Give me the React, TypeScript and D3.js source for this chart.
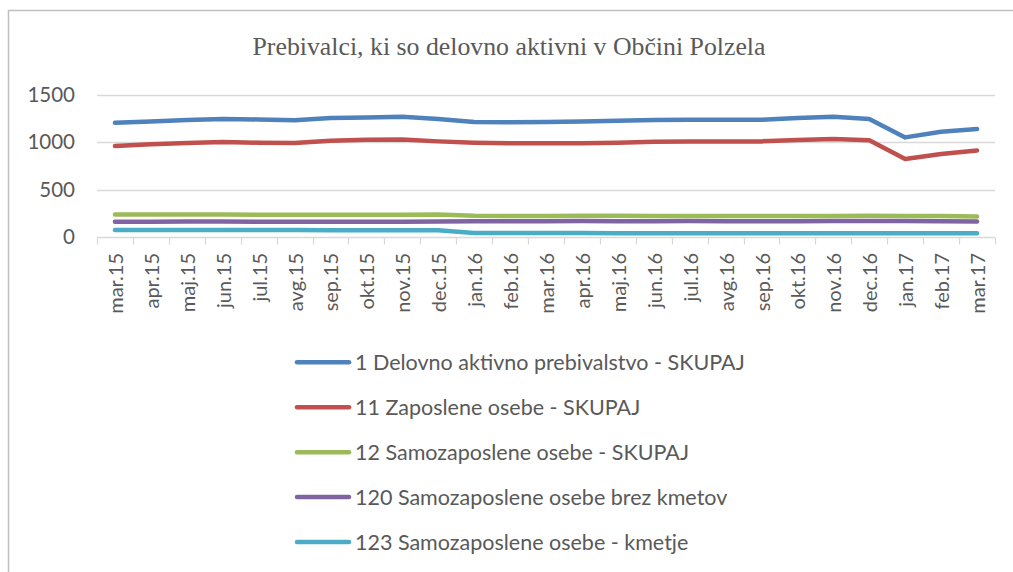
import React, { useRef, useEffect } from "react";
import * as d3 from "d3";

const months = [
  "mar.15", "apr.15", "maj.15", "jun.15", "jul.15", "avg.15", "sep.15", "okt.15", "nov.15",
  "dec.15", "jan.16", "feb.16", "mar.16", "apr.16", "maj.16", "jun.16", "jul.16", "avg.16",
  "sep.16", "okt.16", "nov.16", "dec.16", "jan.17", "feb.17", "mar.17",
];

const seriesNames = [
  "1 Delovno aktivno prebivalstvo - SKUPAJ",
  "11 Zaposlene osebe - SKUPAJ",
  "12 Samozaposlene osebe - SKUPAJ",
  "120 Samozaposlene osebe brez kmetov",
  "123 Samozaposlene osebe - kmetje",
];

const skupaj = [1205, 1219, 1233, 1244, 1240, 1230, 1254, 1261, 1268, 1244, 1212, 1209, 1212, 1219, 1226, 1233, 1237, 1237, 1237, 1254, 1268, 1244, 1051, 1111, 1139];
const zaposlene = [960, 978, 992, 1002, 995, 992, 1016, 1027, 1030, 1009, 995, 988, 988, 988, 995, 1006, 1009, 1009, 1009, 1023, 1034, 1020, 823, 876, 914];
const samozaposlene = [241, 240, 240, 240, 238, 237, 236, 236, 237, 240, 226, 225, 225, 226, 226, 225, 225, 224, 224, 225, 225, 226, 225, 224, 220];
const brezKmetov = [164, 164, 165, 165, 164, 164, 164, 163, 164, 167, 170, 170, 170, 171, 170, 170, 171, 169, 169, 169, 171, 172, 172, 170, 166];
const kmetje = [77, 77, 76, 76, 76, 76, 75, 74, 74, 73, 45, 44, 44, 44, 43, 43, 42, 42, 42, 42, 42, 42, 42, 42, 42];

const colors = ["#4F81BD", "#C0504D", "#9BBB59", "#8064A2", "#4BACC6"];
const yTicks = [0, 500, 1000, 1500];

const LineChart = () => {
  const svgRef = useRef<SVGSVGElement>(null);

  useEffect(() => {
    const width = 1013;
    const height = 572;
    const font = "Lato, 'Open Sans', sans-serif";
    const textColor = "#595959";
    const gridColor = "#D9D9D9";

    const svg = d3.select(svgRef.current).attr("width", width).attr("height", height).html("");

    // rámeček grafu
    svg
      .append("rect")
      .attr("x", 8.5)
      .attr("y", 10.5)
      .attr("width", width + 20)
      .attr("height", height + 20)
      .attr("fill", "#fff")
      .attr("stroke", "#BFBFBF")
      .attr("stroke-width", 1.5);

    svg
      .append("text")
      .attr("x", 509)
      .attr("y", 55)
      .attr("text-anchor", "middle")
      .attr("font-family", "'Liberation Serif', 'Times New Roman', serif")
      .attr("font-size", 26)
      .attr("fill", textColor)
      .attr("textLength", 513)
      .attr("lengthAdjust", "spacingAndGlyphs")
      .text("Prebivalci, ki so delovno aktivni v Občini Polzela");

    const xScale = d3.scaleBand().domain(months).range([97, 995]);
    const yScale = d3.scaleLinear().domain([0, 1500]).range([237.3, 94.7]);

    // mřížka
    svg
      .selectAll(".grid")
      .data(yTicks.filter((t) => t > 0))
      .enter()
      .append("line")
      .attr("x1", 97)
      .attr("x2", 995)
      .attr("y1", (d) => Math.round(yScale(d)) + 0.5)
      .attr("y2", (d) => Math.round(yScale(d)) + 0.5)
      .attr("stroke", gridColor)
      .attr("stroke-width", 1.3);

    svg
      .selectAll(".ylab")
      .data(yTicks)
      .enter()
      .append("text")
      .attr("x", 75)
      .attr("y", (d) => yScale(d))
      .attr("dy", "0.35em")
      .attr("text-anchor", "end")
      .attr("font-family", font)
      .attr("font-size", 20.5)
      .attr("fill", textColor)
      .text((d) => d);

    // osa x
    const y0 = Math.round(yScale(0)) + 0.5;
    svg
      .append("line")
      .attr("x1", 97)
      .attr("x2", 995)
      .attr("y1", y0)
      .attr("y2", y0)
      .attr("stroke", gridColor)
      .attr("stroke-width", 1.3);

    const tickPos = months.map((m) => xScale(m)!).concat([995]);
    svg
      .selectAll(".tick")
      .data(tickPos)
      .enter()
      .append("line")
      .attr("x1", (d) => Math.round(d) + 0.5)
      .attr("x2", (d) => Math.round(d) + 0.5)
      .attr("y1", y0)
      .attr("y2", y0 + 7)
      .attr("stroke", gridColor)
      .attr("stroke-width", 1.3);

    svg
      .selectAll(".xlab")
      .data(months)
      .enter()
      .append("text")
      .attr("transform", (d) => `translate(${xScale(d)! + xScale.bandwidth() / 2 + 1},253) rotate(-90)`)
      .attr("dy", "0.35em")
      .attr("text-anchor", "end")
      .attr("font-family", font)
      .attr("font-size", 20)
      .attr("fill", textColor)
      .text((d) => d);

    const allSeries = [skupaj, zaposlene, samozaposlene, brezKmetov, kmetje];
    const line = d3
      .line<number>()
      .x((_, i) => xScale(months[i])! + xScale.bandwidth() / 2)
      .y((d) => yScale(d));

    // kreslíme odspodu, aby modrá byla navrchu
    allSeries
      .map((s, i) => ({ s, i }))
      .reverse()
      .forEach(({ s, i }) => {
        svg
          .append("path")
          .attr("d", line(s))
          .attr("fill", "none")
          .attr("stroke", colors[i])
          .attr("stroke-width", 4.5)
          .attr("stroke-linecap", "round")
          .attr("stroke-linejoin", "round");
      });

    // legenda
    const legendY = d3.scalePoint().domain(seriesNames).range([362.3, 542]);
    const legend = svg
      .selectAll(".legend")
      .data(seriesNames)
      .enter()
      .append("g")
      .attr("transform", (d) => `translate(0,${legendY(d)})`);

    legend
      .append("line")
      .attr("x1", 297)
      .attr("x2", 349)
      .attr("stroke", (_, i) => colors[i])
      .attr("stroke-width", 4.5)
      .attr("stroke-linecap", "round");

    legend
      .append("text")
      .attr("x", 355)
      .attr("dy", "0.35em")
      .attr("font-family", font)
      .attr("font-size", 21.5)
      .attr("fill", textColor)
      .text((d) => d);
  }, []);

  return <svg ref={svgRef} style={{ position: "absolute", left: 0, top: 0 }} />;
};

export default function App() {
  return <LineChart />;
}
